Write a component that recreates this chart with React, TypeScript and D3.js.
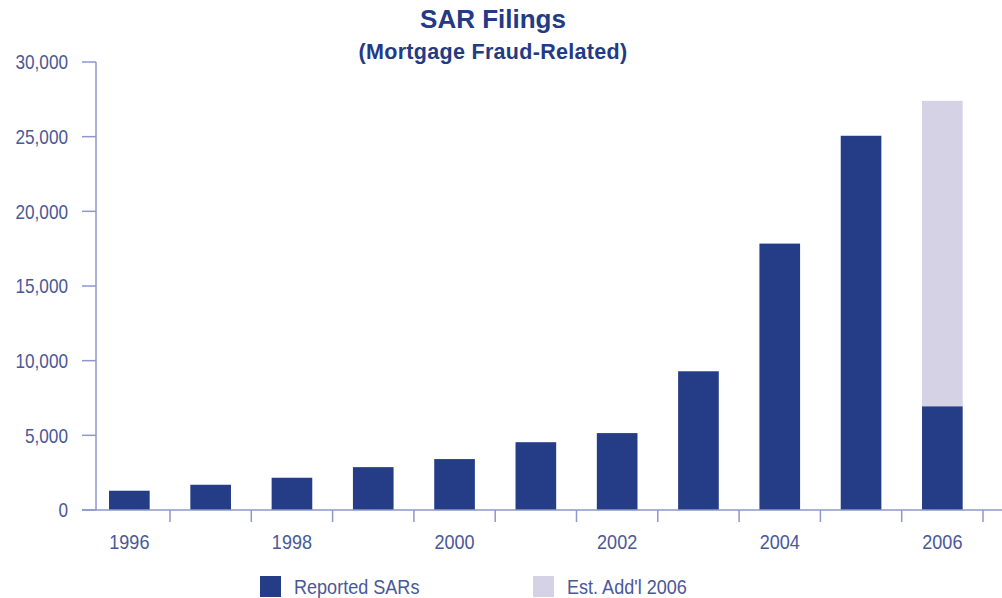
import React, { useEffect, useRef } from "react";
import * as d3 from "d3";

// data
const years = ["1996", "1997", "1998", "1999", "2000", "2001", "2002", "2003", "2004", "2005", "2006"];
const reportedSARs = [1290, 1690, 2160, 2870, 3410, 4540, 5150, 9290, 17840, 25060, 6950];
const estAddl2006 = [0, 0, 0, 0, 0, 0, 0, 0, 0, 0, 20450];
const yTicks = [0, 5000, 10000, 15000, 20000, 25000, 30000];
const yearLabels = ["1996", "1998", "2000", "2002", "2004", "2006"];
const seriesNames = ["Reported SARs", "Est. Add'l 2006"];
const seriesColors = ["#253d87", "#d4d2e4"];

const W = 1002;
const H = 598;
const axisColor = "#8c98c6";
const textColor = "#4a5898";
const font = "'Liberation Sans', Arial, sans-serif";
const squeeze = 0.86; // the original face is a condensed sans

const App = () => {
    const ref = useRef<SVGSVGElement>(null);

    useEffect(() => {
        const svg = d3.select(ref.current);
        svg.selectAll("*").remove();

        const rows = years.map((yr, i) => ({ year: yr, reported: reportedSARs[i], est: estAddl2006[i] }));

        const x = d3.scaleBand().domain(years).range([88.7, 983]).paddingInner(0.5).paddingOuter(0.25);
        const y = d3.scaleLinear().domain([0, 30000]).range([510, 62]);
        const step = x.step();

        // title
        svg.append("text")
            .attr("x", 493).attr("y", 28)
            .attr("text-anchor", "middle")
            .attr("font-family", font)
            .attr("font-weight", "bold")
            .attr("font-size", 26)
            .attr("fill", "#233a85")
            .text("SAR Filings");
        svg.append("text")
            .attr("x", 493).attr("y", 59)
            .attr("text-anchor", "middle")
            .attr("font-family", font)
            .attr("font-weight", "bold")
            .attr("font-size", 21.5)
            .attr("letter-spacing", 0.3)
            .attr("fill", "#233a85")
            .text("(Mortgage Fraud-Related)");

        // stacked bars
        const stack = d3.stack<any>().keys(["reported", "est"]);
        const layers = stack(rows);
        svg.append("g")
            .selectAll("g")
            .data(layers)
            .join("g")
            .attr("fill", (d, i) => seriesColors[i])
            .selectAll("rect")
            .data((d) => d.filter((p) => p[1] - p[0] > 0))
            .join("rect")
            .attr("x", (d: any) => x(d.data.year)!)
            .attr("width", x.bandwidth())
            .attr("y", (d) => y(d[1]))
            .attr("height", (d) => y(d[0]) - y(d[1]));

        // y axis
        const ax = svg.append("g").attr("stroke", axisColor).attr("stroke-width", 1.5);
        ax.append("line").attr("x1", 96).attr("x2", 96).attr("y1", y(30000)).attr("y2", y(0));
        ax.selectAll(".yt")
            .data(yTicks)
            .join("line")
            .attr("x1", 82).attr("x2", 96)
            .attr("y1", (d) => y(d)).attr("y2", (d) => y(d));
        svg.append("g")
            .selectAll("text")
            .data(yTicks)
            .join("text")
            .attr("transform", (d) => `translate(68,${y(d)}) scale(${squeeze},1)`)
            .attr("dy", "0.36em")
            .attr("text-anchor", "end")
            .attr("font-family", font)
            .attr("font-size", 20)
            .attr("fill", textColor)
            .text((d) => d3.format(",")(d));

        // x axis baseline + ticks between bars
        ax.append("line").attr("x1", 82).attr("x2", W).attr("y1", y(0)).attr("y2", y(0));
        ax.selectAll(".xt")
            .data(years)
            .join("line")
            .attr("x1", (d) => x(d)! + x.bandwidth() / 2 + step / 2)
            .attr("x2", (d) => x(d)! + x.bandwidth() / 2 + step / 2)
            .attr("y1", y(0)).attr("y2", y(0) + 12);
        svg.append("g")
            .selectAll("text")
            .data(yearLabels)
            .join("text")
            .attr("transform", (d) => `translate(${x(d)! + x.bandwidth() / 2},549) scale(${squeeze},1)`)
            .attr("text-anchor", "middle")
            .attr("font-family", font)
            .attr("font-size", 21)
            .attr("fill", textColor)
            .text((d) => d);

        // legend
        const legendX = [260, 533];
        const lg = svg.append("g")
            .selectAll("g")
            .data(seriesNames)
            .join("g")
            .attr("transform", (d, i) => `translate(${legendX[i]},576)`);
        lg.append("rect").attr("width", 21).attr("height", 21).attr("fill", (d, i) => seriesColors[i]);
        lg.append("text")
            .attr("transform", `translate(34,18) scale(${squeeze},1)`)
            .attr("font-family", font)
            .attr("font-size", 21)
            .attr("fill", textColor)
            .text((d) => d);
    }, []);

    return (
        <svg
            ref={ref}
            width={W}
            height={H}
            style={{ position: "absolute", left: 0, top: 0, background: "#fff", display: "block" }}
        />
    );
};

export default App;
